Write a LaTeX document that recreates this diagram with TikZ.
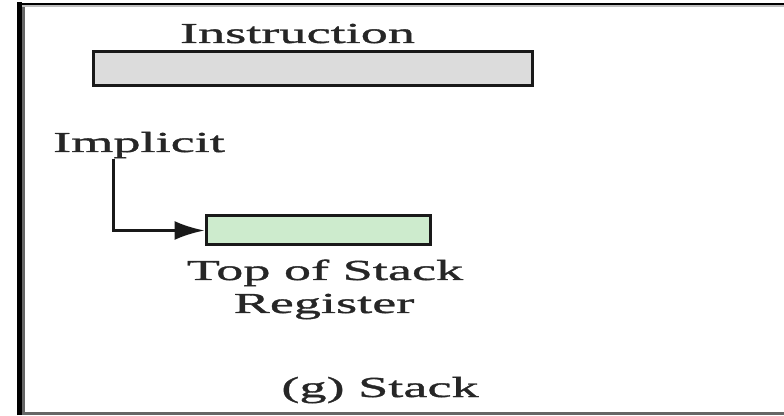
\documentclass[tikz,border=0pt]{standalone}
\usepackage{fontspec}
\setmainfont{Liberation Serif}[FakeStretch=1.87,FakeBold=1.2]
\usetikzlibrary{arrows.meta}
\definecolor{regfill}{HTML}{CDEBCD}
\definecolor{instrfill}{HTML}{DCDCDC}
\tikzset{
  lbl/.style={anchor=base, inner sep=0pt, text=black!85,
              font=\fontsize{29}{33}\selectfont},
  fieldbox/.style={draw=black!90, line width=3pt, inner sep=0pt},
  link/.style={draw=black!90, line width=3pt,
               -{Latex[length=30pt,width=19pt]}},
}
\begin{document}
\begin{tikzpicture}[x=1pt,y=1pt]
  \useasboundingbox (0,0) rectangle (784,415);
  % frame (open on the right)
  \draw[black, line width=5pt] (19.5,0) -- (19.5,413);
  \draw[black!60, line width=3pt] (23.5,2) -- (23.5,409);
  \draw[black, line width=2.5pt] (17,411) -- (784,411);
  \draw[black!25, line width=2pt] (22,408.5) -- (784,408.5);
  \draw[black!60, line width=3pt] (22,1.5) -- (784,1.5);

  % instruction field
  \node[lbl] (instrlbl) at (297.5,372) {Instruction};
  \node[fieldbox, fill=instrfill, minimum width=439pt, minimum height=34pt]
    (instr) at (312.5,346) {};

  % implicit operand: top of stack register
  \node[lbl] (impl) at (139,263) {Implicit};
  \node[fieldbox, fill=regfill, minimum width=224pt, minimum height=29pt]
    (tos) at (318,184.5) {};
  \node[lbl] (toslbl1) at (325,135) {Top of Stack};
  \node[lbl] (toslbl2) at (324,102) {Register};
  \coordinate (implfoot) at (113.5,256);
  \draw[link] (implfoot) |- (tos.west);

  % caption
  \node[lbl] (caption) at (380,18) {(g) Stack};
\end{tikzpicture}
\end{document}
